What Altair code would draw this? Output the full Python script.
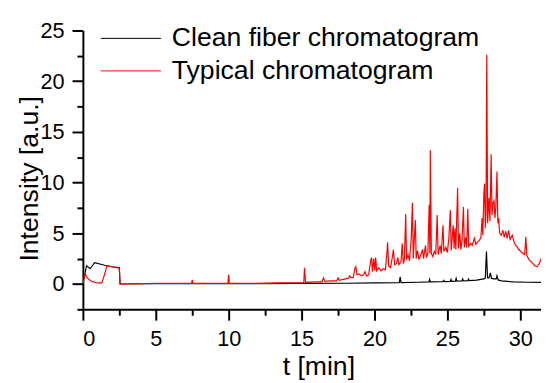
import altair as alt
import pandas as pd

# Clean fiber chromatogram (black)
t_clean = [0.0, 0.25, 0.5, 0.8, 1.5, 2.0, 2.5, 2.55, 5.0, 10.0, 15.0, 18.0, 20.0, 21.7, 21.76, 21.82,
           23.0, 23.74, 23.78, 23.83, 24.5, 24.7, 24.75, 24.8, 25.2, 25.25, 25.3, 25.55, 25.6, 25.65,
           26.0, 26.05, 26.1, 26.4, 26.45, 26.5, 27.0, 27.3, 27.5, 27.6, 27.68, 27.75, 27.85, 27.95,
           28.02, 28.2, 28.35, 28.4, 28.48, 28.7, 29.5, 30.5, 31.5]
i_clean = [0.0, 1.8, 1.5, 2.1, 1.85, 1.7, 1.6, 0.0, 0.02, 0.03, 0.05, 0.07, 0.1, 0.13, 0.7, 0.14,
           0.17, 0.2, 0.45, 0.2, 0.22, 0.23, 0.35, 0.23, 0.25, 0.45, 0.26, 0.27, 0.55, 0.28,
           0.3, 0.5, 0.3, 0.33, 0.5, 0.33, 0.38, 0.45, 0.5, 0.6, 3.2, 0.6, 0.6, 1.1,
           0.55, 0.5, 0.5, 0.8, 0.4, 0.3, 0.2, 0.17, 0.15]

# Typical chromatogram (red)
t_typ = [0.0, 0.15, 0.3, 0.6, 1.0, 1.3, 1.5, 1.65, 2.0, 2.5, 2.55, 5.0, 7.45, 7.5, 7.55, 9.95, 10.0, 10.05,
         12.0, 13.5, 15.15, 15.2, 15.27, 16.0, 16.4, 16.5, 16.6, 17.0, 17.4, 17.5, 17.6,
         18.0, 18.2, 18.3, 18.4, 18.55, 18.65, 18.72, 18.8, 18.95, 19.1, 19.25, 19.35, 19.45, 19.6,
         19.75, 19.8, 19.86, 19.95, 20.02, 20.08, 20.15, 20.3, 20.45, 20.6, 20.75, 20.85, 20.9, 20.97,
         21.1, 21.22, 21.3, 21.38, 21.5, 21.6, 21.68, 21.82, 21.9, 21.98, 22.05, 22.14, 22.2, 22.3,
         22.4, 22.52, 22.6, 22.66, 22.8, 22.86, 22.95, 23.05, 23.15, 23.3, 23.36, 23.5, 23.56, 23.66,
         23.75, 23.8, 23.83, 23.9, 24.0, 24.1, 24.2, 24.3, 24.36, 24.5, 24.58, 24.7, 24.76, 24.9,
         25.0, 25.1, 25.2, 25.26, 25.4, 25.46, 25.52, 25.58, 25.7, 25.76, 25.85, 25.92, 26.0, 26.1,
         26.16, 26.25, 26.32, 26.4, 26.46, 26.6, 26.7, 26.85, 26.95, 27.1, 27.2, 27.3, 27.38, 27.43,
         27.5, 27.55, 27.6, 27.65, 27.7, 27.76, 27.85, 27.92, 28.0, 28.06, 28.12, 28.2, 28.26, 28.32,
         28.4, 28.46, 28.52, 28.58, 28.7, 28.8, 28.9, 29.0, 29.1, 29.2, 29.3, 29.45, 29.6, 29.8,
         29.9, 30.1, 30.3, 30.38, 30.45, 30.6, 30.8, 31.0, 31.15, 31.3, 31.46]
i_typ = [0.0, 1.0, 0.6, 0.25, 0.1, 0.1, 1.0, 1.8, 1.7, 1.55, 0.0, 0.05, 0.05, 0.4, 0.05, 0.05, 0.9, 0.05,
         0.05, 0.1, 0.1, 1.6, 0.15, 0.2, 0.2, 0.6, 0.25, 0.3, 0.3, 0.6, 0.35,
         0.5, 0.55, 0.8, 0.6, 0.65, 1.5, 1.7, 0.9, 1.0, 0.8, 0.9, 1.2, 0.8, 0.9,
         2.4, 2.6, 1.2, 2.5, 1.3, 2.6, 1.3, 1.6, 1.3, 1.5, 1.4, 3.0, 4.1, 1.8,
         1.6, 2.6, 3.4, 1.9, 2.0, 2.6, 1.9, 2.2, 4.0, 2.0, 2.4, 6.9, 2.4, 2.9,
         2.3, 4.5, 8.0, 2.5, 6.3, 2.5, 3.3, 2.4, 2.8, 3.4, 2.5, 3.8, 2.6, 3.0,
         7.8, 3.0, 13.2, 3.0, 2.7, 3.2, 2.9, 6.8, 2.9, 3.8, 3.0, 5.8, 3.2, 3.6,
         3.1, 4.5, 7.3, 3.3, 5.8, 3.5, 5.5, 3.4, 9.5, 3.5, 5.0, 3.4, 4.2, 7.6,
         3.6, 4.6, 3.6, 7.4, 3.7, 4.0, 3.8, 4.5, 3.9, 4.2, 4.3, 4.6, 6.5, 4.8,
         8.9, 9.9, 5.5, 7.0, 22.6, 6.0, 8.5, 6.2, 12.8, 6.8, 8.0, 8.2, 6.5, 7.5,
         11.1, 6.0, 6.5, 5.0, 4.8, 5.3, 4.6, 5.2, 4.5, 5.3, 4.4, 4.8, 4.0, 3.6,
         3.4, 3.1, 2.9, 4.65, 2.8, 2.4, 2.1, 1.8, 1.7, 2.0, 2.6]

series_names = ["Clean fiber chromatogram", "Typical chromatogram"]
series_colors = ["#000000", "#ff0000"]

df = pd.concat([
    pd.DataFrame({"t": t_clean, "I": i_clean, "s": series_names[0], "o": 0}),
    pd.DataFrame({"t": t_typ, "I": i_typ, "s": series_names[1], "o": 1}),
])

x_ticks = [i * 2.5 for i in range(13)]
y_ticks = [-2.5 + i * 2.5 for i in range(12)]

FONT = "Liberation Sans"
label_expr = "datum.value % 5 == 0 ? datum.label : ''"
tick_size = {"condition": {"test": "datum.value % 5 == 0", "value": 11}, "value": 6}

chart = alt.Chart(df).mark_line(strokeWidth=1.2, clip=True).encode(
    x=alt.X("t:Q", scale=alt.Scale(domain=[0, 31.42], nice=False, zero=False),
            axis=alt.Axis(values=x_ticks, labelExpr=label_expr, tickSize=tick_size,
                          title="t [min]", titleX=239, titleY=58, titleBaseline="middle",
                          labelPadding=9)),
    y=alt.Y("I:Q", scale=alt.Scale(domain=[-2.5, 25], nice=False, zero=False),
            axis=alt.Axis(values=y_ticks, labelExpr=label_expr, tickSize=tick_size,
                          title="Intensity [a.u.]", titleX=-54, titleY=150, titleBaseline="middle",
                          labelPadding=8)),
    color=alt.Color("s:N", scale=alt.Scale(domain=series_names, range=series_colors),
                    legend=alt.Legend(title=None, orient="none", legendX=18, legendY=-8,
                                      symbolType="M-2,0H2", symbolSize=930, symbolStrokeWidth=1,
                                      symbolOffset=14.75,
                                      labelFontSize=27, labelFont=FONT, labelColor="black",
                                      labelLimit=600, labelOffset=25.5, rowPadding=4, padding=0)),
    order="o:Q",
    detail="s:N",
).properties(
    width=465, height=283,
    autosize=alt.AutoSizeParams(type="none"),
    padding={"left": 76, "top": 20, "right": 0, "bottom": 75},
).configure_view(stroke=None).configure_axis(
    grid=False, domainColor="black", domainWidth=2, tickColor="black", tickWidth=2,
    labelFont=FONT, labelFontSize=22, labelColor="black",
    titleFont=FONT, titleFontSize=27, titleColor="black", titleFontWeight="normal",
)

chart.save("out.html", embed_options={"renderer": "svg", "actions": False})
